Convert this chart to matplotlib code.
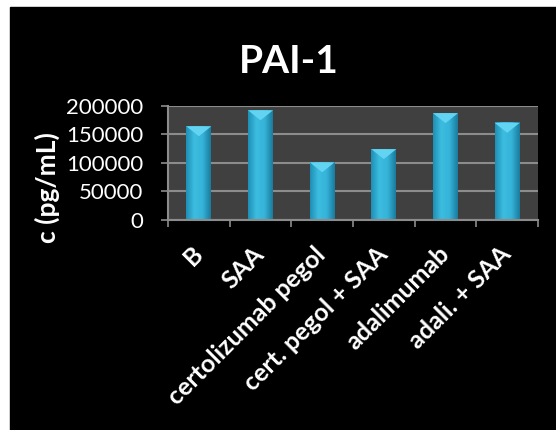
import matplotlib

matplotlib.use("Agg")
import matplotlib.pyplot as plt
import numpy as np
from matplotlib.colors import LinearSegmentedColormap
from matplotlib.patches import Polygon, Rectangle

plt.rcParams["font.family"] = ["Lato", "DejaVu Sans"]

categories = [
    "B",
    "SAA",
    "certolizumab pegol",
    "cert. pegol + SAA",
    "adalimumab",
    "adali. + SAA",
]
values = [164000, 192000, 101000, 124000, 187000, 170000]
y_ticks = [0, 50000, 100000, 150000, 200000]

W, H = 556, 430
fig = plt.figure(figsize=(W / 100, H / 100), dpi=100)
fig.patch.set_facecolor("white")
fig.add_artist(Rectangle((10 / W, 0), (W - 10) / W, (H - 7) / H,
                         transform=fig.transFigure, color="black", zorder=0))

ax = fig.add_axes([168 / W, 1 - 220 / H, 370 / W, 114.3 / H])
ax.set_facecolor("#404040")

# cylinder-ish shading across each bar
shade = LinearSegmentedColormap.from_list(
    "bar", ["#1f8fb5", "#3cbde0", "#36b3d8", "#1a7c9f"])
grad = np.linspace(0, 1, 64)[None, :]
bar_w = 0.405
bevel = 17500

x = np.arange(len(categories))
for xi, v in zip(x, values):
    x0, x1 = xi - bar_w / 2, xi + bar_w / 2
    ax.imshow(grad, cmap=shade, extent=(x0, x1, 0, v), aspect="auto",
              interpolation="bilinear", zorder=2)
    ax.add_patch(Polygon([(x0, v), (x1, v), (xi, v - bevel)],
                         closed=True, color="#62d4f1", lw=0, zorder=3))

ax.set_xlim(-0.5, len(categories) - 0.5)
ax.set_ylim(0, 200000)

ax.set_yticks(y_ticks)
ax.set_yticklabels([str(t) for t in y_ticks])
ax.yaxis.grid(True, color="#8c8c8c", lw=1.5)
ax.set_axisbelow(True)

ax.set_xticks(x)
ax.set_xticklabels(categories, rotation=45, ha="right", va="center",
                   rotation_mode="anchor", fontweight="bold", fontsize=18,
                   color="white")
ax.set_xticks(np.arange(-0.5, len(categories)), minor=True)
ax.tick_params(axis="x", which="major", length=0, pad=22)
ax.tick_params(axis="x", which="minor", length=5, width=1.2, color="#8c8c8c")
ax.tick_params(axis="y", length=5, width=1.2, color="#8c8c8c",
               labelcolor="white", labelsize=16, pad=13)

for side in ("top", "right"):
    ax.spines[side].set_visible(False)
for side in ("left", "bottom"):
    ax.spines[side].set_color("#8c8c8c")
    ax.spines[side].set_linewidth(1.5)

fig.text(288.5 / W, 1 - 73 / H, "PAI-1", ha="center", va="baseline",
         fontsize=28, fontweight="bold", color="white")
fig.text(47 / W, 1 - 187.5 / H, "c (pg/mL)", ha="center", va="center",
         rotation=90, fontsize=19, fontweight="bold", color="white")

fig.savefig("out.png", dpi=100, facecolor=fig.get_facecolor())
plt.close(fig)
